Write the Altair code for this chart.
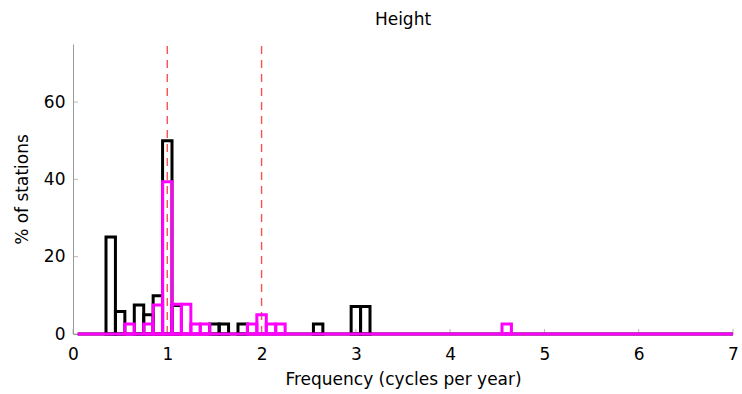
import altair as alt
import pandas as pd

# Histogram bins (centres, width 0.1) and heights in % of stations
black_x = [0.4, 0.5, 0.7, 0.8, 0.9, 1.0, 1.1, 1.5, 1.6, 1.8, 2.6, 3.0, 3.1]
black_y = [25.1, 5.8, 7.5, 5.0, 9.9, 50.0, 7.4, 2.6, 2.6, 2.6, 2.6, 7.1, 7.1]

magenta_x = [0.6, 0.8, 0.9, 1.0, 1.1, 1.2, 1.3, 1.4, 1.9, 2.0, 2.1, 2.2, 4.6]
magenta_y = [2.6, 2.6, 7.5, 39.4, 7.7, 7.7, 2.6, 2.6, 2.6, 5.0, 2.6, 2.6, 2.6]

bin_width = 0.1
base_start = [0.05]
base_end = [7.0]

ref_lines = [1, 2]
x_ticks = [0, 1, 2, 3, 4, 5, 6, 7]
y_ticks = [0, 20, 40, 60]

FONT = "DejaVu Sans"
AXIS_GRAY = "#9a9a9a"


def bins(xs, ys):
    return pd.DataFrame({
        "x0": [x - bin_width / 2 for x in xs],
        "x1": [x + bin_width / 2 for x in xs],
        "y": ys,
        "z": [0 for _ in xs],
    })


xscale = alt.Scale(domain=[0, 7], nice=False, zero=False, padding=0)
yscale = alt.Scale(domain=[0, 75], nice=False, padding=0)

xaxis = alt.Axis(values=x_ticks, format="d", title="Frequency (cycles per year)",
                 tickSize=0, labelPadding=12, titlePadding=9, grid=False,
                 labelFlush=False)
yaxis = alt.Axis(values=y_ticks, format="d", title="% of stations",
                 tickSize=0, labelPadding=8, titlePadding=12, grid=False,
                 labelFlush=False)

ref_df = pd.DataFrame({"x": ref_lines, "lo": [0 for _ in ref_lines], "hi": [75 for _ in ref_lines]})
refs = alt.Chart(ref_df).mark_rule(color="#ff5050", strokeWidth=1.4, strokeDash=[8, 6]).encode(
    x=alt.X("x:Q", scale=xscale, axis=xaxis),
    y=alt.Y("lo:Q", scale=yscale, axis=yaxis),
    y2="hi:Q",
)

base_df = pd.DataFrame({"s": base_start, "e": base_end, "z": [0]})
black_base = alt.Chart(base_df).mark_rule(color="black", strokeWidth=3).encode(
    x="s:Q", x2="e:Q", y="z:Q"
)
black_bars = alt.Chart(bins(black_x, black_y)).mark_rect(
    fillOpacity=0, stroke="black", strokeWidth=3
).encode(x="x0:Q", x2="x1:Q", y="y:Q", y2="z:Q")

mag_base = alt.Chart(base_df).mark_rule(color="#ff00ff", strokeWidth=3).encode(
    x="s:Q", x2="e:Q", y="z:Q"
)
mag_bars = alt.Chart(bins(magenta_x, magenta_y)).mark_rect(
    fillOpacity=0, stroke="#ff00ff", strokeWidth=3
).encode(x="x0:Q", x2="x1:Q", y="y:Q", y2="z:Q")

xt = alt.Chart(pd.DataFrame({"t": x_ticks, "z": [0 for _ in x_ticks]})).mark_tick(
    orient="vertical", size=5, thickness=1, color=AXIS_GRAY, yOffset=-2.5
).encode(x="t:Q", y="z:Q")

yt = alt.Chart(pd.DataFrame({"t": y_ticks, "z": [0 for _ in y_ticks]})).mark_tick(
    orient="horizontal", size=5, thickness=1, color=AXIS_GRAY, xOffset=2.5
).encode(y="t:Q", x="z:Q")

chart = alt.layer(refs, xt, yt, black_base, black_bars, mag_base, mag_bars).properties(
    width=660,
    height=290,
    title=alt.TitleParams("Height", font=FONT, fontSize=17, fontWeight="normal",
                          color="black", offset=14, anchor="middle"),
    autosize=alt.AutoSizeParams(type="none"),
    padding={"left": 73, "top": 44, "right": 9, "bottom": 60},
).configure_view(stroke=None).configure_axis(
    domainColor=AXIS_GRAY, domainWidth=1,
    labelFont=FONT, labelFontSize=17, labelColor="black",
    titleFont=FONT, titleFontSize=17, titleFontWeight="normal", titleColor="black",
)

chart.save("out.html", embed_options={"renderer": "svg", "actions": False})
